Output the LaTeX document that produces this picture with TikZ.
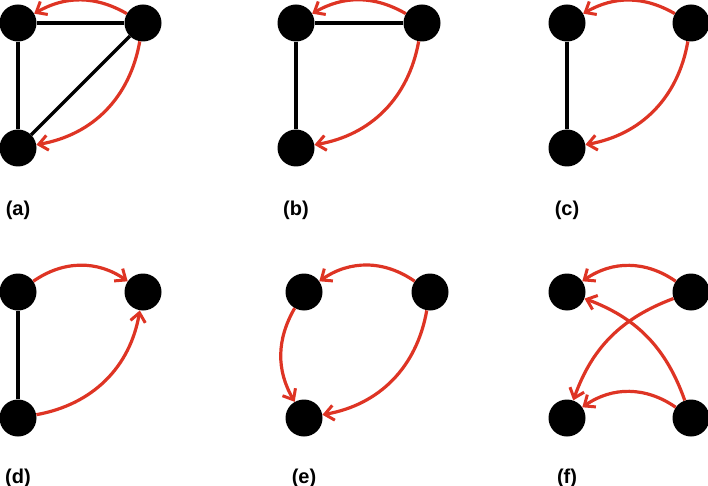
\documentclass[tikz,border=0pt]{standalone}
\usepackage{fontspec}
\setmainfont{Liberation Sans}
\usetikzlibrary{arrows.meta}
\definecolor{rd}{RGB}{222,52,36}
\begin{document}
\begin{tikzpicture}[x=1pt,y=-1pt,
  v/.style={circle,fill=black,minimum size=37pt,inner sep=0pt},
  e/.style={line width=3.4pt,black},
  ar/.style={line width=3.2pt,rd,-{Straight Barb[length=9pt,width=15pt,line width=3pt]}},
  lab/.style={font=\bfseries\fontsize{20}{24}\selectfont,anchor=center}]
\useasboundingbox (0,0) rectangle (708,486);
% (a)
\node[v] (a1) at (18,23) {}; \node[v] (a2) at (143,23) {}; \node[v] (a3) at (18,148) {};
\draw[e] (a1)--(a2); \draw[e] (a1)--(a3); \draw[e] (a2)--(a3);
\draw[ar] (a2) to[bend right=30] (a1);
\draw[ar] (a2) to[bend left=35] (a3);
\node[lab] (la) at (18,210) {(a)};
% (b)
\node[v] (b1) at (296,23) {}; \node[v] (b2) at (422,23) {}; \node[v] (b3) at (296,148) {};
\draw[e] (b1)--(b2); \draw[e] (b1)--(b3);
\draw[ar] (b2) to[bend right=30] (b1);
\draw[ar] (b2) to[bend left=35] (b3);
\node[lab] (lb) at (296,210) {(b)};
% (c)
\node[v] (c1) at (567,23) {}; \node[v] (c2) at (691,23) {}; \node[v] (c3) at (567,148) {};
\draw[e] (c1)--(c3);
\draw[ar] (c2) to[bend right=30] (c1);
\draw[ar] (c2) to[bend left=35] (c3);
\node[lab] (lc) at (567,210) {(c)};
% (d)
\node[v] (d1) at (18,292) {}; \node[v] (d2) at (143,292) {}; \node[v] (d3) at (18,418) {};
\draw[e] (d1)--(d3);
\draw[ar] (d1) to[bend left=35] (d2);
\draw[ar] (d3) to[bend right=35] (d2);
\node[lab] (ld) at (18,478) {(d)};
% (e)
\node[v] (e1) at (304,292) {}; \node[v] (e2) at (430,292) {}; \node[v] (e3) at (304,418) {};
\draw[ar] (e2) to[bend right=35] (e1);
\draw[ar] (e2) to[bend left=35] (e3);
\draw[ar] (e1) to[bend right=30] (e3);
\node[lab] (le) at (304,478) {(e)};
% (f)
\node[v] (f1) at (567,292) {}; \node[v] (f2) at (691,292) {}; \node[v] (f3) at (567,418) {}; \node[v] (f4) at (691,418) {};
\draw[ar] (f2) to[bend right=35] (f1);
\draw[ar] (f4) to[bend right=35] (f3);
\draw[ar] (f2) to[bend right=25] (f3);
\draw[ar] (f4) to[bend right=25] (f1);
\node[lab] (lf) at (567,478) {(f)};
\end{tikzpicture}
\end{document}
